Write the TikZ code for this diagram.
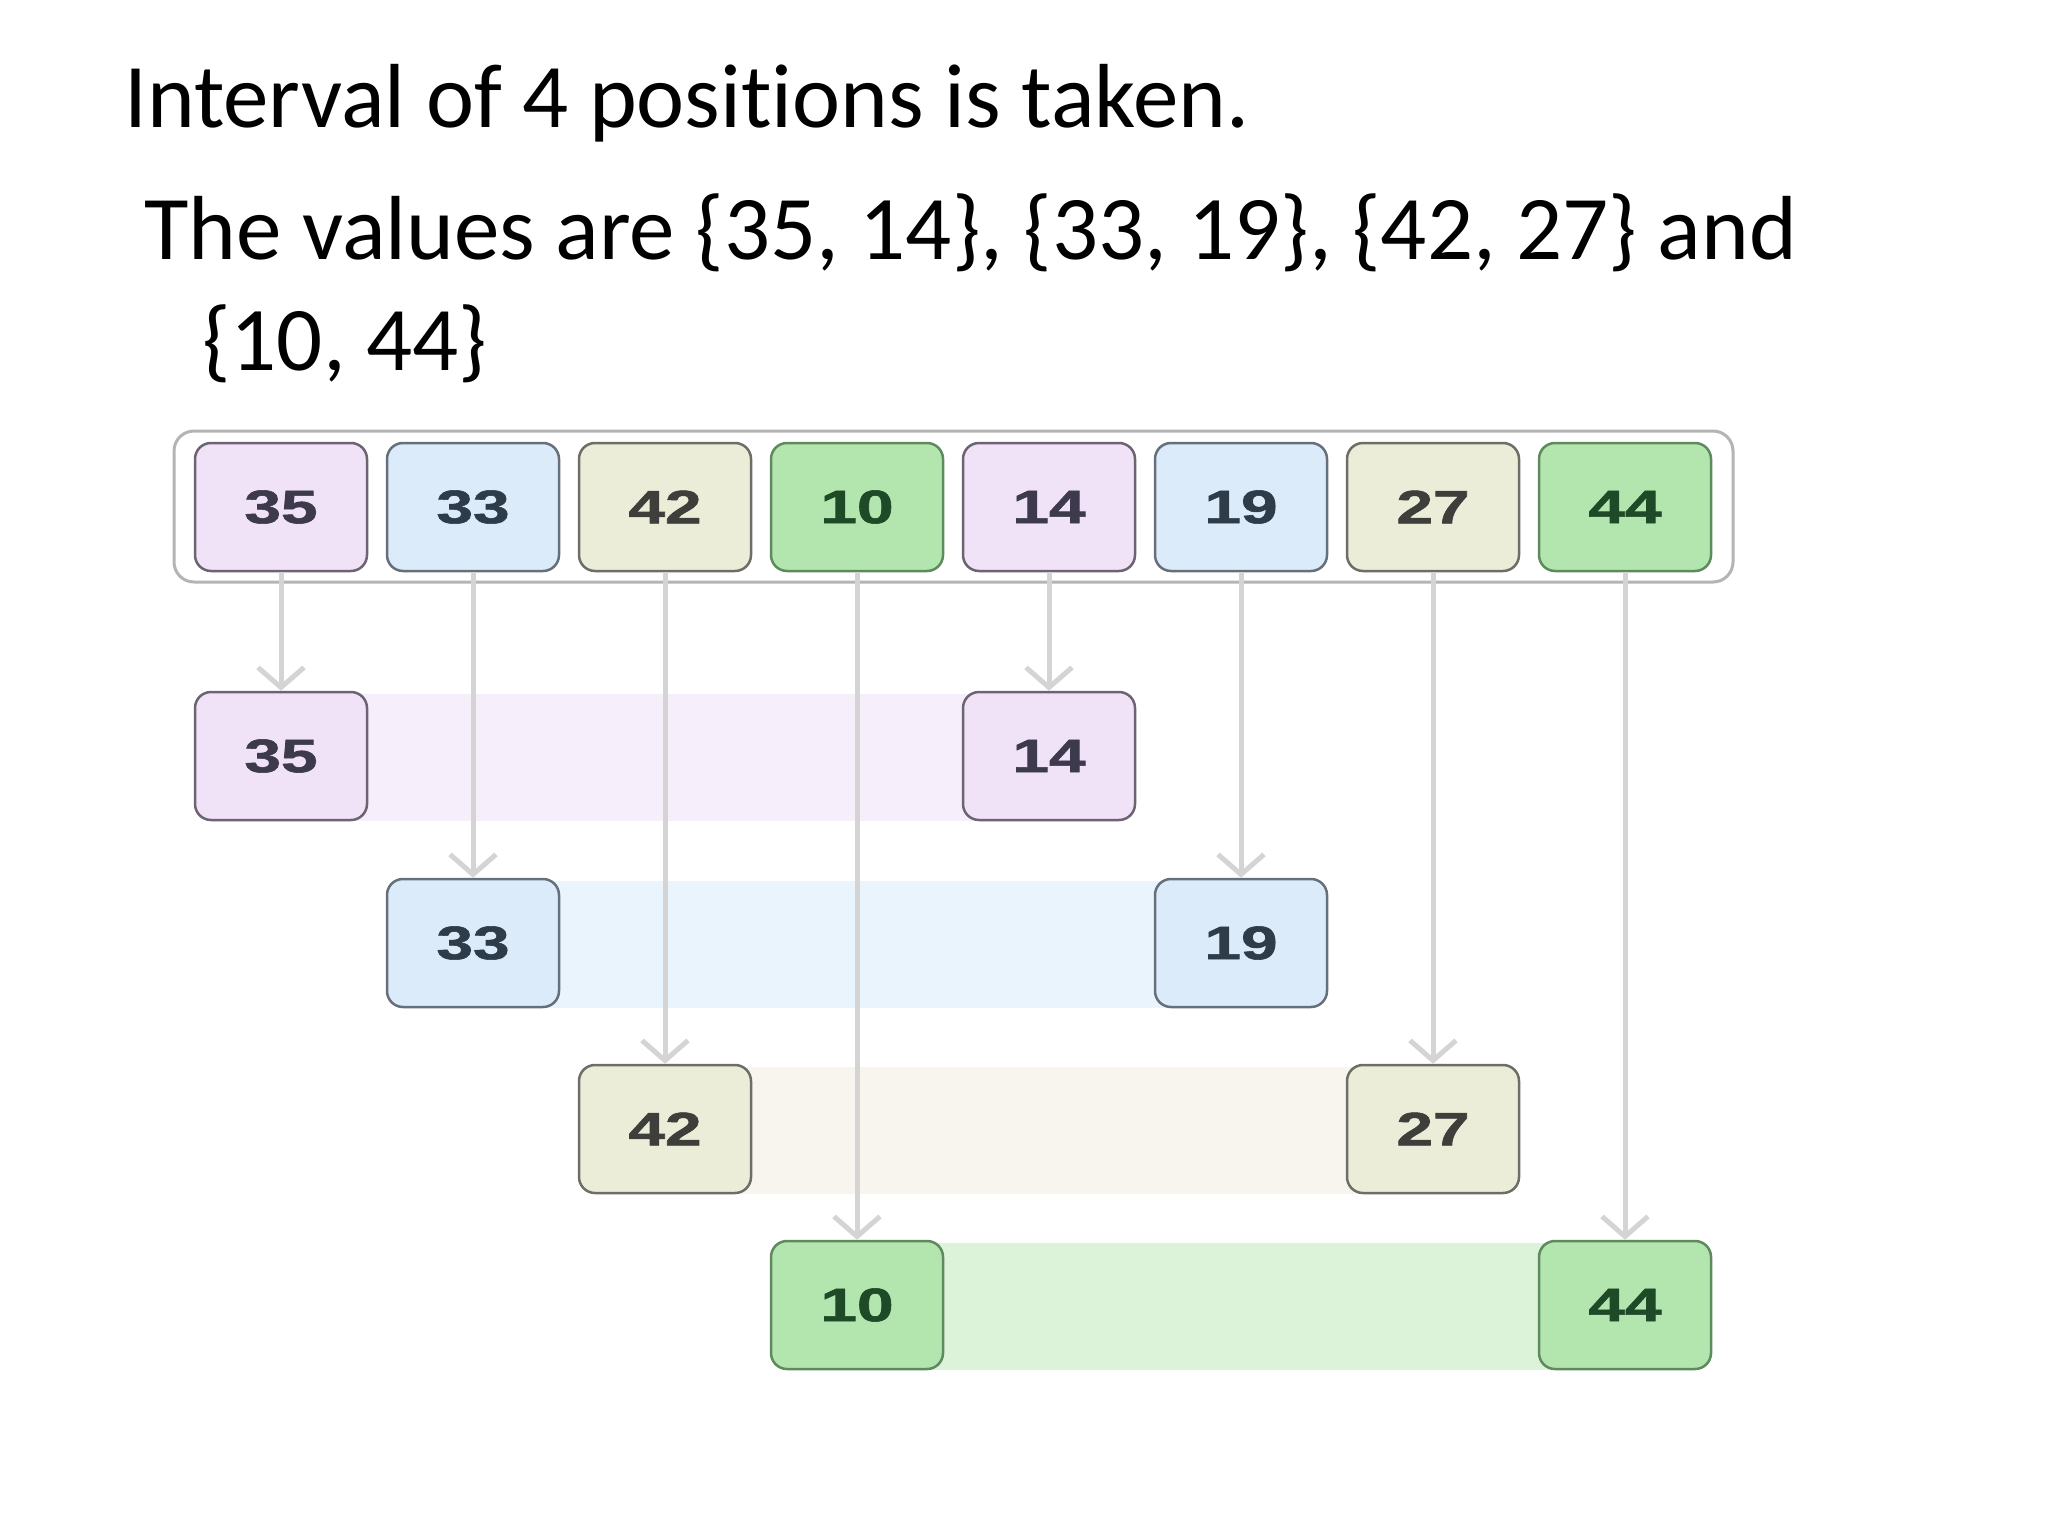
\documentclass[tikz,border=0pt]{standalone}
\usepackage{fontspec}
\usepackage{graphicx}
\setmainfont{Carlito}[Ligatures=NoCommon]
\newfontfamily\numfont{Liberation Sans}[BoldFeatures={FakeBold=1.2}]
\usetikzlibrary{arrows.meta,backgrounds}
\definecolor{pfill}{HTML}{F0E2F7}
\definecolor{bfill}{HTML}{DCEBFA}
\definecolor{yfill}{HTML}{ECEDD8}
\definecolor{gfill}{HTML}{B3E6AE}
\definecolor{pband}{HTML}{F6EEFA}
\definecolor{bband}{HTML}{EAF4FD}
\definecolor{yband}{HTML}{F8F5EF}
\definecolor{gband}{HTML}{DCF3D9}
\definecolor{pline}{HTML}{6C6470}
\definecolor{bline}{HTML}{66707A}
\definecolor{yline}{HTML}{6E6E66}
\definecolor{gline}{HTML}{5E8A5E}
\definecolor{ptext}{HTML}{3C3A4C}
\definecolor{btext}{HTML}{2E3C4A}
\definecolor{ytext}{HTML}{3E3E3A}
\definecolor{gtext}{HTML}{1F4A28}
\definecolor{arrgray}{HTML}{D4D4D4}
\definecolor{contline}{HTML}{B4B4B4}
\newcommand{\numtxt}[1]{{\numfont\bfseries\fontsize{47}{47}\selectfont\scalebox{1.4}[1]{#1}}}
\begin{document}
\begin{tikzpicture}[x=1pt,y=-1pt,
  cell/.style={draw, rounded corners=16pt, minimum width=172pt, minimum height=128pt, line width=2.5pt, inner sep=0pt},
  pcell/.style={cell, fill=pfill, draw=pline, text=ptext},
  bcell/.style={cell, fill=bfill, draw=bline, text=btext},
  ycell/.style={cell, fill=yfill, draw=yline, text=ytext},
  gcell/.style={cell, fill=gfill, draw=gline, text=gtext},
  arr/.style={draw=arrgray, line width=5pt, -{Straight Barb[length=20pt,width=46pt]}},
  title/.style={anchor=base west, inner sep=0pt, font=\fontsize{91}{108}\selectfont}
]
\useasboundingbox (0,0) rectangle (2048,1536);
\begin{scope}[on background layer]
\fill[white] (0,0) rectangle (2048,1536);
\end{scope}

\node[title] (l1) at (124,128) {Interval of 4 positions is taken.};
\node[title] (l2) at (144,259) {The values are \{35, 14\}, \{33, 19\}, \{42, 27\} and};
\node[title] (l3) at (202,370) {\{10, 44\}};

\node[draw=contline, line width=3pt, rounded corners=20pt, fill=white, minimum width=1559pt, minimum height=151pt, inner sep=0pt] (cont) at (953.5,506.5) {};

\node[pcell] (t1) at (281,507) {\numtxt{35}};
\node[bcell] (t2) at (473,507) {\numtxt{33}};
\node[ycell] (t3) at (665,507) {\numtxt{42}};
\node[gcell] (t4) at (857,507) {\numtxt{10}};
\node[pcell] (t5) at (1049,507) {\numtxt{14}};
\node[bcell] (t6) at (1241,507) {\numtxt{19}};
\node[ycell] (t7) at (1433,507) {\numtxt{27}};
\node[gcell] (t8) at (1625,507) {\numtxt{44}};

\node[pcell] (r35) at (281,756) {\numtxt{35}};
\node[pcell] (r14) at (1049,756) {\numtxt{14}};
\node[bcell] (r33) at (473,943) {\numtxt{33}};
\node[bcell] (r19) at (1241,943) {\numtxt{19}};
\node[ycell] (r42) at (665,1129) {\numtxt{42}};
\node[ycell] (r27) at (1433,1129) {\numtxt{27}};
\node[gcell] (r10) at (857,1305) {\numtxt{10}};
\node[gcell] (r44) at (1625,1305) {\numtxt{44}};

\begin{scope}[on background layer]
\fill[pband] ([yshift=-3pt]r35.north) rectangle (r14.south);
\fill[bband] ([yshift=-3pt]r33.north) rectangle (r19.south);
\fill[yband] ([yshift=-3pt]r42.north) rectangle (r27.south);
\fill[gband] ([yshift=-3pt]r10.north) rectangle (r44.south);
\end{scope}

\draw[arr] (t1.south) -- (r35.north);
\draw[arr] (t2.south) -- (r33.north);
\draw[arr] (t3.south) -- (r42.north);
\draw[arr] (t4.south) -- (r10.north);
\draw[arr] (t5.south) -- (r14.north);
\draw[arr] (t6.south) -- (r19.north);
\draw[arr] (t7.south) -- (r27.north);
\draw[arr] (t8.south) -- (r44.north);
\end{tikzpicture}
\end{document}
